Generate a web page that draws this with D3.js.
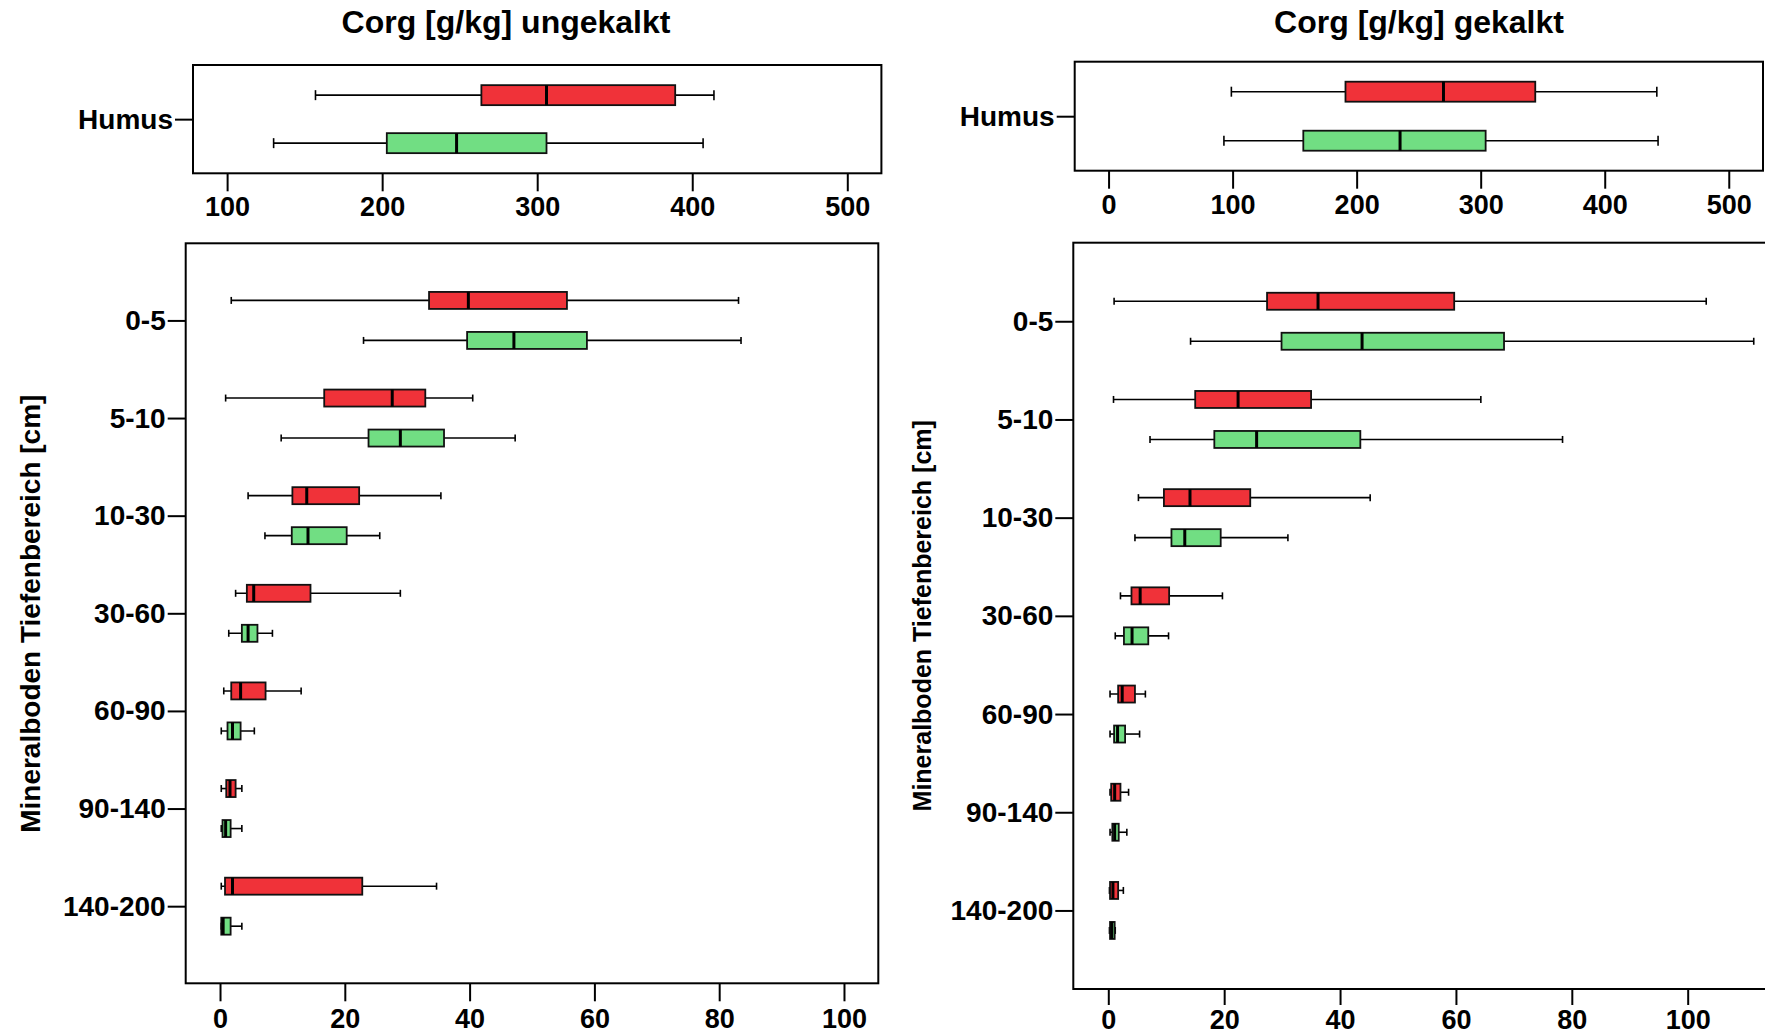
<!DOCTYPE html>
<html>
<head>
<meta charset="utf-8">
<script src="https://cdn.jsdelivr.net/npm/d3@7"></script>
<style>
  body { margin: 0; background: #fff; }
  svg text { font-family: 'Liberation Sans', Arial, sans-serif; font-weight: bold; fill: #000; }
</style>
</head>
<body>
<div id="chart"></div>
<script>
// ---------- data: [whisker low, Q1, median, Q3, whisker high] ----------
const humusCategory = ['Humus'];
const depthCategories = ['0-5', '5-10', '10-30', '30-60', '60-90', '90-140', '140-200'];

const humusTicksUngekalkt = [100, 200, 300, 400, 500];
const humusTicksGekalkt = [0, 100, 200, 300, 400, 500];
const depthTicks = [0, 20, 40, 60, 80, 100];

const humusRedUngekalkt = [[157, 264, 306, 389, 414]];
const humusGreenUngekalkt = [[130, 203, 248, 306, 407]];
const humusRedGekalkt = [[99, 191, 270, 344, 442]];
const humusGreenGekalkt = [[93, 157, 235, 304, 443]];

const depthRedUngekalkt = [
  [1.8, 33.5, 39.8, 55.6, 83.1],
  [0.9, 16.7, 27.6, 32.9, 40.5],
  [4.5, 11.6, 13.9, 22.3, 35.4],
  [2.5, 4.3, 5.4, 14.5, 28.9],
  [0.6, 1.8, 3.3, 7.3, 13.0],
  [0.2, 1.0, 1.6, 2.5, 3.5],
  [0.2, 0.8, 2.0, 22.8, 34.7],
];
const depthGreenUngekalkt = [
  [23.0, 39.6, 47.1, 58.8, 83.5],
  [9.8, 23.8, 28.9, 35.9, 47.3],
  [7.2, 11.5, 14.1, 20.3, 25.6],
  [1.4, 3.5, 4.5, 6.0, 8.4],
  [0.2, 1.2, 2.0, 3.3, 5.5],
  [0.2, 0.4, 0.9, 1.7, 3.5],
  [0.2, 0.2, 0.5, 1.7, 3.5],
];
const depthRedGekalkt = [
  [1.0, 27.4, 36.2, 59.7, 103.2],
  [0.9, 15.0, 22.4, 35.0, 64.3],
  [5.2, 9.6, 14.1, 24.5, 45.2],
  [2.1, 4.0, 5.5, 10.5, 19.7],
  [0.3, 1.7, 2.4, 4.6, 6.4],
  [0.3, 0.5, 1.1, 2.1, 3.5],
  [0.2, 0.3, 0.8, 1.7, 2.6],
];
const depthGreenGekalkt = [
  [14.2, 29.9, 43.8, 68.3, 111.4],
  [7.2, 18.3, 25.6, 43.5, 78.4],
  [4.6, 10.9, 13.2, 19.4, 31.0],
  [1.2, 2.7, 4.1, 6.9, 10.4],
  [0.3, 1.0, 1.6, 2.9, 5.4],
  [0.3, 0.7, 1.1, 1.8, 3.2],
  [0.2, 0.3, 0.6, 1.1, 1.2],
];

const titles = ['Corg [g/kg] ungekalkt', 'Corg [g/kg] gekalkt'];
const yTitle = 'Mineralboden Tiefenbereich [cm]';

// ---------- drawing ----------
const RED = '#f03239';
const GREEN = '#71de83';

const svg = d3.select('#chart').append('svg').attr('width', 1765).attr('height', 1036);

function drawPanel(cfg) {
  const g = svg.append('g');
  const x = d3.scaleLinear().domain(cfg.domain).range([cfg.left, cfg.right]);
  const y = d3
    .scalePoint()
    .domain(cfg.categories)
    .range([cfg.top, cfg.bottom])
    .padding(cfg.padding);

  // x axis
  const xAxis = g
    .append('g')
    .attr('transform', `translate(0,${cfg.bottom})`)
    .call(d3.axisBottom(x).tickValues(cfg.ticks).tickSize(cfg.xTick).tickPadding(cfg.xPad).tickFormat(d3.format('d')));
  xAxis.select('.domain').remove();
  xAxis.selectAll('line').attr('stroke-width', 2);
  xAxis.selectAll('text').style('font-size', '27px');

  // y axis
  const yAxis = g
    .append('g')
    .attr('transform', `translate(${cfg.left},0)`)
    .call(d3.axisLeft(y).tickSize(18).tickPadding(2));
  yAxis.select('.domain').remove();
  yAxis.selectAll('line').attr('stroke-width', 2);
  yAxis.selectAll('text').style('font-size', '28px');

  // frame
  g.append('rect')
    .attr('x', cfg.left)
    .attr('y', cfg.top)
    .attr('width', cfg.right - cfg.left)
    .attr('height', cfg.bottom - cfg.top)
    .attr('fill', 'none')
    .attr('stroke', '#000')
    .attr('stroke-width', 2);

  drawBoxes(g, x, y, cfg.categories, cfg.red, -cfg.offset, cfg.boxH, cfg.capH, RED);
  drawBoxes(g, x, y, cfg.categories, cfg.green, cfg.offset, cfg.boxH, cfg.capH, GREEN);
}

function drawBoxes(g, x, y, cats, stats, offset, h, cap, fill) {
  const rows = cats.map((c, i) => ({ c, s: stats[i] }));
  const b = g
    .append('g')
    .selectAll('g')
    .data(rows)
    .enter()
    .append('g')
    .attr('transform', (d) => `translate(0,${y(d.c) + offset})`);

  // whiskers
  b.append('line')
    .attr('x1', (d) => x(d.s[0]))
    .attr('x2', (d) => x(d.s[4]))
    .attr('stroke', '#000')
    .attr('stroke-width', 1.6);
  [0, 4].forEach((k) => {
    b.append('line')
      .attr('x1', (d) => x(d.s[k]))
      .attr('x2', (d) => x(d.s[k]))
      .attr('y1', -cap / 2)
      .attr('y2', cap / 2)
      .attr('stroke', '#000')
      .attr('stroke-width', 1.6);
  });

  // box
  b.append('rect')
    .attr('x', (d) => x(d.s[1]))
    .attr('y', -h / 2)
    .attr('width', (d) => Math.max(0.5, x(d.s[3]) - x(d.s[1])))
    .attr('height', h)
    .attr('fill', fill)
    .attr('stroke', '#111')
    .attr('stroke-width', 1.8);

  // median
  b.append('line')
    .attr('x1', (d) => x(d.s[2]))
    .attr('x2', (d) => x(d.s[2]))
    .attr('y1', -h / 2)
    .attr('y2', h / 2)
    .attr('stroke', '#000')
    .attr('stroke-width', 3);
}

drawPanel({
  left: 193, right: 881.4, top: 65, bottom: 173.3,
  domain: [78, 522], ticks: humusTicksUngekalkt, xTick: 18, xPad: 6,
  categories: humusCategory, padding: 0.5,
  red: humusRedUngekalkt, green: humusGreenUngekalkt,
  offset: 24, boxH: 20, capH: 10,
});
drawPanel({
  left: 1074.7, right: 1763, top: 61.7, bottom: 170.7,
  domain: [-27.3, 527.6], ticks: humusTicksGekalkt, xTick: 18, xPad: 6,
  categories: humusCategory, padding: 0.5,
  red: humusRedGekalkt, green: humusGreenGekalkt,
  offset: 24.5, boxH: 20, capH: 10,
});
drawPanel({
  left: 185.7, right: 878.3, top: 243.3, bottom: 983.3,
  domain: [-5.5, 105.5], ticks: depthTicks, xTick: 18, xPad: 8,
  categories: depthCategories, padding: 0.79,
  red: depthRedUngekalkt, green: depthGreenUngekalkt,
  offset: 20, boxH: 17, capH: 7,
});
drawPanel({
  left: 1073.3, right: 1774.6, top: 242.7, bottom: 989,
  domain: [-6.04, 115], ticks: depthTicks, xTick: 16, xPad: 5,
  categories: depthCategories, padding: 0.8,
  red: depthRedGekalkt, green: depthGreenGekalkt,
  offset: 20, boxH: 17, capH: 7,
});

// titles
svg.append('text').attr('x', 506).attr('y', 33).attr('text-anchor', 'middle').style('font-size', '32px').text(titles[0]);
svg.append('text').attr('x', 1419).attr('y', 33).attr('text-anchor', 'middle').style('font-size', '32px').text(titles[1]);

svg.append('text')
  .attr('transform', 'translate(40,613.7) rotate(-90)')
  .attr('text-anchor', 'middle')
  .style('font-size', '28px')
  .text(yTitle);
svg.append('text')
  .attr('transform', 'translate(931,615.8) rotate(-90)')
  .attr('text-anchor', 'middle')
  .style('font-size', '25px')
  .text(yTitle);
</script>
</body>
</html>
